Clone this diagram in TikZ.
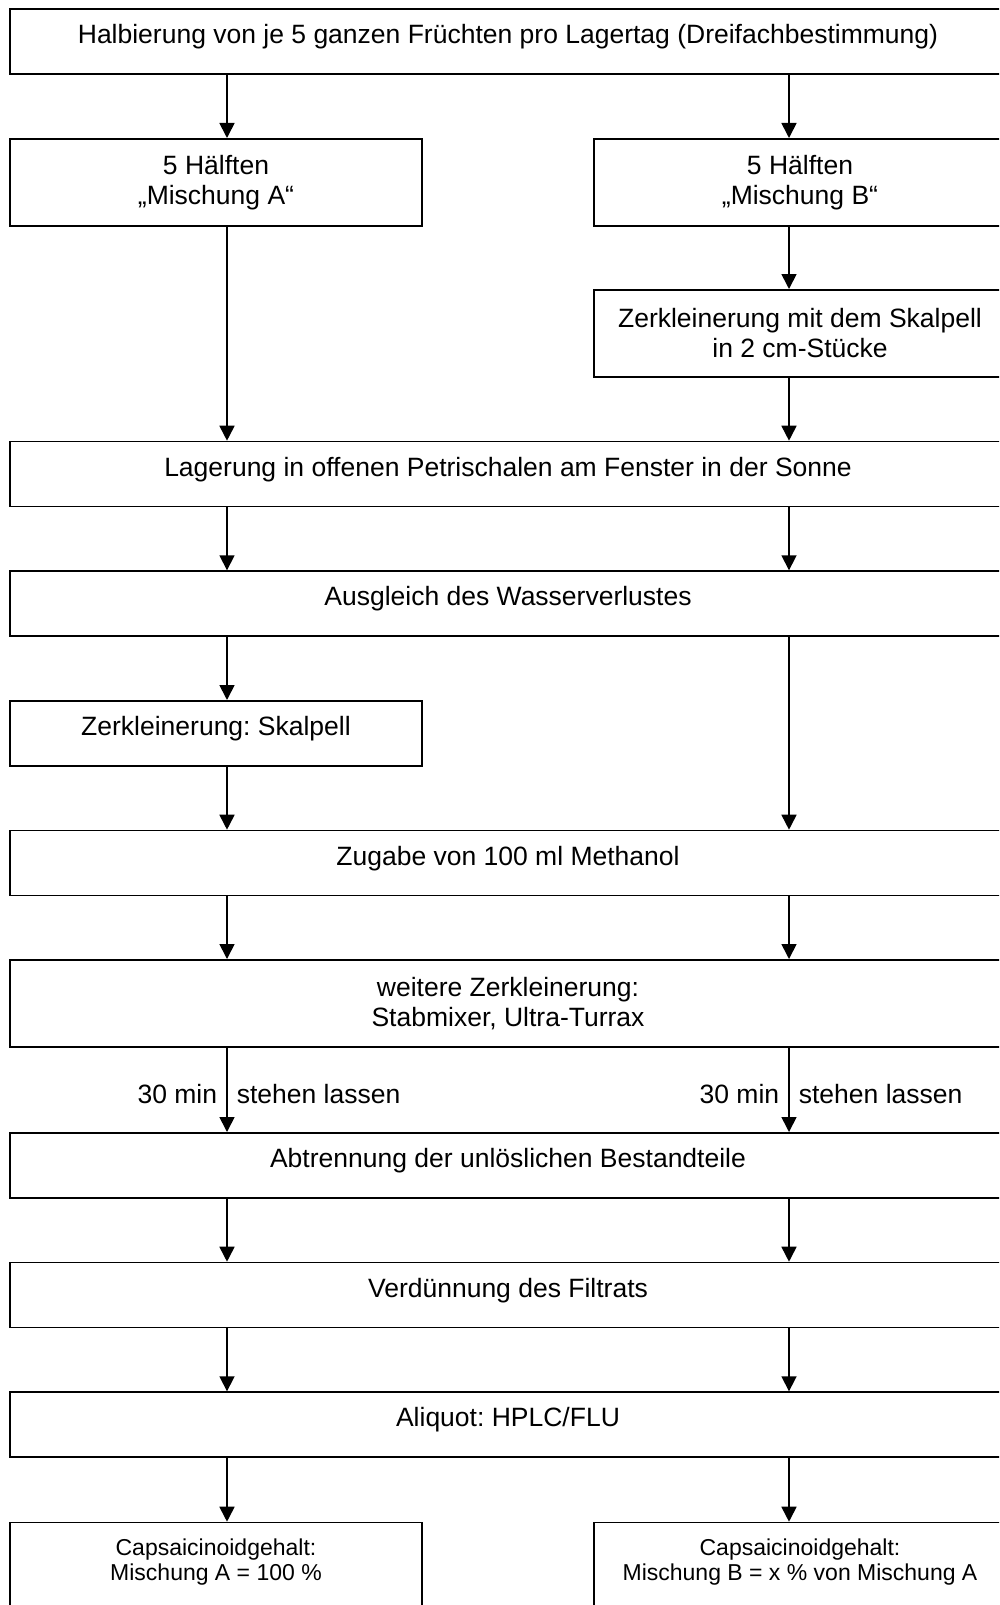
\documentclass[tikz,border=0pt]{standalone}
\usepackage{fontspec}
\setmainfont{Liberation Sans}
\frenchspacing
\usetikzlibrary{arrows.meta}
\usetikzlibrary{positioning}

\begin{document}
\begin{tikzpicture}[x=1pt, y=-1pt, line width=1.7pt,
  >={Triangle[length=15pt,width=15pt]},
  box/.style={draw, rectangle, anchor=north, inner sep=0, align=center,
    font=\fontsize{26.5}{30}\selectfont, minimum height=65},
  onebox/.style={box, text height=19pt, text depth=14.5pt},
  twobox/.style={box, minimum height=87},
  gehalt/.style={box, minimum height=87, text height=41.8pt, text depth=13.8pt,
    font=\fontsize{23}{25}\selectfont},
  fullbox/.style={minimum width=996},
  halfbox/.style={minimum width=412},
  wait/.style={font=\fontsize{26.5}{30}\selectfont, inner sep=9pt}]
\useasboundingbox (0,0) rectangle (999,1605);
\clip (0,0) rectangle (999,1605);
\coordinate (colA) at (227,0);
\coordinate (colB) at (789,0);

\node[onebox, fullbox] (halb) at (508,8) {Halbierung von je 5 ganzen Früchten pro Lagertag (Dreifachbestimmung)};
\node[twobox, halfbox] (haelfteA) at (216,138) {5 Hälften\\„Mischung A“};
\node[twobox, halfbox] (haelfteB) at (800,138) {5 Hälften\\„Mischung B“};
\node[twobox, halfbox] (zerB) at (800,289) {Zerkleinerung mit dem Skalpell\\in 2 cm-Stücke};
\node[onebox, fullbox] (lager) at (508,440.7) {Lagerung in offenen Petrischalen am Fenster in der Sonne};
\node[onebox, fullbox] (ausgl) at (508,570.3) {Ausgleich des Wasserverlustes};
\node[onebox, halfbox] (zerA) at (216,700) {Zerkleinerung: Skalpell};
\node[onebox, fullbox] (zugabe) at (508,829.7) {Zugabe von 100 ml Methanol};
\node[twobox, fullbox] (weiter) at (508,959) {weitere Zerkleinerung:\\Stabmixer, Ultra-Turrax};
\node[onebox, fullbox] (abtr) at (508,1132) {Abtrennung der unlöslichen Bestandteile};
\node[onebox, fullbox] (verd) at (508,1261.7) {Verdünnung des Filtrats};
\node[onebox, fullbox] (aliq) at (508,1391.3) {Aliquot: HPLC/FLU};
\node[gehalt, halfbox] (gehaltA) at (216,1521.7) {Capsaicinoidgehalt:\\Mischung A = 100 \%};
\node[gehalt, halfbox] (gehaltB) at (800,1521.7) {Capsaicinoidgehalt:\\Mischung B = x \% von Mischung A};

% Halbierung -> Lagerung
\draw[->] (halb.south -| colA) -- (haelfteA.north -| colA);
\draw[->] (halb.south -| colB) -- (haelfteB.north -| colB);
\draw[->] (haelfteB.south -| colB) -- (zerB.north -| colB);
\draw[->] (haelfteA.south -| colA) -- (lager.north -| colA);
\draw[->] (zerB.south -| colB) -- (lager.north -| colB);
\foreach \c in {colA,colB}
  \draw[->] (lager.south -| \c) -- (ausgl.north -| \c);
% Ausgleich -> Zugabe
\draw[->] (ausgl.south -| colA) -- (zerA.north -| colA);
\draw[->] (zerA.south -| colA) -- (zugabe.north -| colA);
\draw[->] (ausgl.south -| colB) -- (zugabe.north -| colB);
\foreach \c in {colA,colB}
  \draw[->] (zugabe.south -| \c) -- (weiter.north -| \c);
\foreach \c in {colA,colB} {
  \draw[->] (weiter.south -| \c) -- (abtr.north -| \c)
    node[wait, pos=.55, left] (min\c) {30 min}
    node[wait, pos=.55, right] (steh\c) {stehen lassen};
}
% Abtrennung -> Gehalt
\foreach \a/\b in {abtr/verd, verd/aliq}
  \foreach \c in {colA,colB}
    \draw[->] (\a.south -| \c) -- (\b.north -| \c);
\draw[->] (aliq.south -| colA) -- (gehaltA.north -| colA);
\draw[->] (aliq.south -| colB) -- (gehaltB.north -| colB);
\end{tikzpicture}
\end{document}
